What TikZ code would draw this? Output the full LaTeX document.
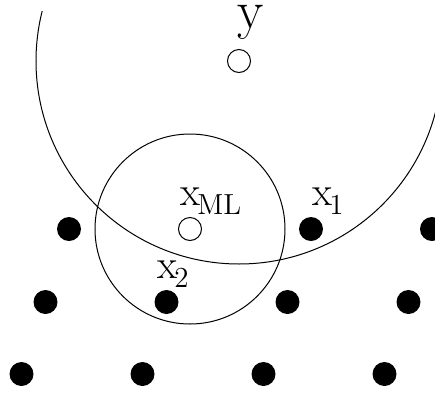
\documentclass[tikz,border=0pt]{standalone}
\usepackage{fontspec}
\newcommand{\lsub}[1]{\kern-1.5pt\raisebox{-4.5pt}{\fontsize{14.5}{14.5}\selectfont #1}}
\begin{document}
\begin{tikzpicture}[x=0.5pt,y=-0.5pt,
  dot/.style={circle,fill=black,inner sep=0pt,minimum size=12pt},
  hollow/.style={circle,draw=black,fill=white,line width=0.5pt,inner sep=0pt,minimum size=11.5pt},
  lab/.style={anchor=base west,inner sep=0pt,font=\fontsize{20.5}{24}\selectfont}]
  \useasboundingbox (0,0) rectangle (435,398);
  \clip (0,0) rectangle (435,398);
  % lattice points, one gap where the estimate sits
  \foreach \c in {0,2,3}
    \node[dot] (pa\c) at (69+121*\c,229) {};
  \foreach \c in {0,...,3}
    \node[dot] (pb\c) at (45.5+121*\c,302) {};
  \foreach \c in {0,...,3}
    \node[dot] (pc\c) at (21.5+121*\c,374) {};
  \node[hollow] (xml) at (190,229) {};
  \node[hollow] (ypt) at (239,61) {};
  % decoding spheres
  \draw[line width=0.5pt] (xml.center) circle (95);
  \begin{scope}
    \clip (0,11) rectangle (435,398);
    \draw[line width=0.5pt] (ypt.center) circle (203);
  \end{scope}
  \node[lab] (ylab) at (237,28.5) {\fontsize{27}{30}\selectfont y};
  \node[lab] (xmllab) at (180,205) {x\lsub{ML}};
  \node[lab] (x1lab) at (312,205) {x\lsub{1}};
  \node[lab] (x2lab) at (157,278) {x\lsub{2}};
\end{tikzpicture}
\end{document}
